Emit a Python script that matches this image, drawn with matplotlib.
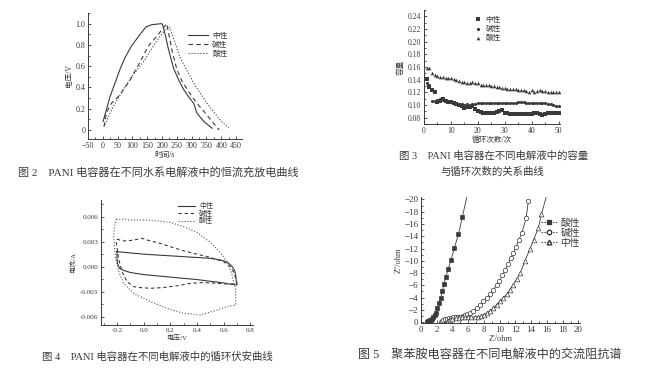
import matplotlib
matplotlib.use("Agg")
import matplotlib.pyplot as plt
from matplotlib.ticker import MultipleLocator, FormatStrFormatter, FixedLocator

plt.rcParams['font.family'] = ['Liberation Serif', 'Noto Sans CJK SC']
plt.rcParams['axes.unicode_minus'] = True

INK = '#3a3a3a'
plt.rcParams['text.color'] = INK
plt.rcParams['axes.edgecolor'] = INK
plt.rcParams['xtick.color'] = INK
plt.rcParams['ytick.color'] = INK
plt.rcParams['axes.labelcolor'] = INK

# ---------------- Fig 2 data: galvanostatic charge/discharge ----------------
gcd_labels = ['中性', '碱性', '酸性']
gcd_neutral_t = [1, 12, 24, 41, 58, 75, 97, 126, 146, 165, 199, 202, 212, 222, 239, 256, 273, 290, 307, 318, 341, 369]
gcd_neutral_v = [0.08, 0.19, 0.31, 0.44, 0.57, 0.68, 0.79, 0.90, 0.97, 0.99, 1.0, 0.99, 0.88, 0.755, 0.58, 0.47, 0.38, 0.31, 0.25, 0.157, 0.08, 0.016]
gcd_alkali_t = [4, 12, 29, 58, 92, 126, 154, 182, 199, 216, 233, 250, 267, 290, 318, 346, 369, 393]
gcd_alkali_v = [0.03, 0.16, 0.25, 0.33, 0.47, 0.64, 0.79, 0.88, 0.94, 1.0, 0.755, 0.57, 0.46, 0.36, 0.25, 0.16, 0.08, 0.0]
gcd_acid_t = [7, 35, 69, 103, 137, 171, 193, 210, 222, 227, 261, 307, 352, 397, 425]
gcd_acid_v = [0.05, 0.22, 0.38, 0.52, 0.64, 0.79, 0.88, 0.94, 0.97, 0.96, 0.68, 0.44, 0.25, 0.09, 0.02]

# ---------------- Fig 3 data: capacity vs cycle ----------------
cyc_labels = ['中性', '碱性', '酸性']
cycles = list(range(1, 51))
cap_neutral = [0.141, 0.128, 0.124, 0.120, 0.104, 0.106, 0.110, 0.106, 0.105, 0.104,
               0.103, 0.102, 0.100, 0.098, 0.096, 0.097, 0.097, 0.098, 0.093, 0.090,
               0.089, 0.088, 0.087, 0.088, 0.087, 0.088, 0.089, 0.091, 0.092, 0.088,
               0.087, 0.086, 0.086, 0.086, 0.086, 0.086, 0.086, 0.086, 0.086, 0.086,
               0.087, 0.087, 0.086, 0.085, 0.086, 0.087, 0.087, 0.087, 0.087, 0.087]
cap_alkali = [0.135, 0.132, 0.107, 0.106, 0.108, 0.109, 0.108, 0.107, 0.106, 0.105,
              0.104, 0.103, 0.102, 0.101, 0.100, 0.101, 0.100, 0.101, 0.102, 0.103,
              0.103, 0.103, 0.103, 0.103, 0.103, 0.103, 0.103, 0.103, 0.103, 0.103,
              0.103, 0.103, 0.103, 0.103, 0.104, 0.105, 0.104, 0.103, 0.103, 0.103,
              0.103, 0.103, 0.103, 0.103, 0.103, 0.102, 0.101, 0.100, 0.099, 0.098]
cap_acid = [0.159, 0.158, 0.150, 0.148, 0.146, 0.145, 0.144, 0.143, 0.142, 0.142,
            0.141, 0.140, 0.138, 0.137, 0.136, 0.135, 0.135, 0.136, 0.135, 0.134,
            0.132, 0.131, 0.131, 0.132, 0.130, 0.130, 0.129, 0.128, 0.127, 0.127,
            0.126, 0.126, 0.125, 0.125, 0.124, 0.124, 0.123, 0.122, 0.121, 0.123,
            0.121, 0.122, 0.123, 0.122, 0.122, 0.121, 0.121, 0.120, 0.121, 0.120]

# ---------------- Fig 4 data: cyclic voltammetry (A) ----------------
cv_labels = ['中性', '碱性', '酸性']
cv_neutral_v = [-0.2, -0.1, 0.0, 0.1, 0.2, 0.3, 0.4, 0.5, 0.56, 0.6, 0.63, 0.66, 0.68, 0.69, 0.695, 0.7,
                0.65, 0.6, 0.5, 0.4, 0.3, 0.2, 0.1, 0.0, -0.1, -0.15, -0.18, -0.195, -0.2, -0.2]
cv_neutral_i = [0.0018, 0.00165, 0.0015, 0.0014, 0.0013, 0.0012, 0.0011, 0.001, 0.00085, 0.0007, 0.0005, 0.0001, -0.0004, -0.001, -0.0018, -0.0022,
                -0.0021, -0.00195, -0.00175, -0.00155, -0.0014, -0.00125, -0.0011, -0.00095, -0.0007, -0.00045, -0.0002, 0.0003, 0.001, 0.0018]
cv_alkali_v = [-0.2, -0.16, -0.12, -0.075, -0.04, -0.012, 0.025, 0.1, 0.2, 0.3, 0.4, 0.5, 0.6, 0.65, 0.68, 0.7,
               0.65, 0.55, 0.45, 0.35, 0.25, 0.15, 0.05, -0.03, -0.075, -0.125, -0.1625, -0.1875, -0.205, -0.2]
cv_alkali_i = [0.0033, 0.0031, 0.0031, 0.0032, 0.0033, 0.0034, 0.0032, 0.0029, 0.0024, 0.0019, 0.0015, 0.0011, 0.0006, 0.0, -0.0008, -0.002,
               -0.0021, -0.002, -0.0019, -0.002, -0.0023, -0.0025, -0.0026, -0.0025, -0.0024, -0.0018, -0.0006, 0.0009, 0.0029, 0.0033]
cv_acid_v = [-0.205, -0.15, -0.1, 0.0, 0.1, 0.2, 0.3, 0.4, 0.5, 0.575, 0.625, 0.66, 0.69, 0.69,
             0.625, 0.55, 0.425, 0.3, 0.175, 0.05, -0.075, -0.15, -0.1875, -0.2125, -0.225, -0.22, -0.205]
cv_acid_i = [0.0057, 0.0057, 0.0056, 0.0056, 0.0055, 0.0053, 0.0048, 0.0041, 0.0029, 0.0017, 0.0006, -0.0008, -0.0028, -0.0046,
             -0.0048, -0.0052, -0.0058, -0.0056, -0.005, -0.0042, -0.0032, -0.002, -0.0006, 0.0012, 0.0036, 0.0048, 0.0057]

# ---------------- Fig 5 data: impedance (Nyquist) ----------------
eis_labels = ['酸性', '碱性', '中性']
eis_acid_x = [0.75, 0.85, 0.95, 1.05, 1.15, 1.27, 1.4, 1.57, 1.72, 1.86, 2.08, 2.29, 2.5, 2.7, 2.92, 3.14, 3.47, 3.81, 4.24, 4.75, 5.25]
eis_acid_y = [0.0, -0.05, -0.12, -0.2, -0.28, -0.38, -0.55, -0.76, -1.1, -1.5, -2.3, -3.1, -4.0, -5.0, -6.2, -7.3, -8.7, -10.1, -12.1, -14.3, -17.1]
eis_acid_line_end = (5.85, -20.6)
eis_alkali_x = [2.55, 2.65, 2.8, 3.0, 3.25, 3.5, 3.8, 4.1, 4.4, 4.7, 5.0, 5.3, 5.6, 5.9, 6.25, 6.65, 7.1, 7.5, 7.9, 8.35,
                8.8, 9.2, 9.6, 9.96, 10.35, 10.7, 11.05, 11.4, 11.75, 12.1, 12.45, 12.8, 13.35, 13.64]
eis_alkali_y = [0.0, -0.2, -0.38, -0.5, -0.58, -0.65, -0.7, -0.75, -0.8, -0.85, -0.9, -1.0, -1.15, -1.3, -1.55, -1.85, -2.3, -2.8, -3.4, -4.0,
                -4.6, -5.3, -6.0, -6.7, -7.6, -8.5, -9.4, -10.4, -11.3, -12.3, -13.4, -14.5, -16.9, -19.7]
eis_neutral_x = [3.26, 3.4, 3.7, 4.0, 4.4, 4.8, 5.2, 5.6, 6.0, 6.4, 6.8, 7.2, 7.6, 7.95, 8.35, 8.75, 9.2, 9.6, 10.0, 10.45,
                 10.9, 11.3, 11.7, 12.15, 12.6, 13.2, 13.86, 14.3, 14.9, 15.3]
eis_neutral_y = [0.0, -0.2, -0.4, -0.55, -0.65, -0.72, -0.76, -0.78, -0.8, -0.8, -0.82, -0.88, -1.0, -1.2, -1.46, -1.85, -2.3, -2.85, -3.4, -3.95,
                 -4.55, -5.3, -6.1, -7.0, -8.0, -9.9, -12.0, -13.4, -15.3, -17.6]
eis_neutral_line_end = (15.95, -20.6)

captions = [
    '图 2    PANI 电容器在不同水系电解液中的恒流充放电曲线',
    '图 3    PANI 电容器在不同电解液中的容量',
    '与循环次数的关系曲线',
    '图 4    PANI 电容器在不同电解液中的循环伏安曲线',
    '图 5    聚苯胺电容器在不同电解液中的交流阻抗谱',
]

W, H = 649, 381
fig = plt.figure(figsize=(W / 100, H / 100), dpi=100)


def add_ax(l, t, r, b):
    return fig.add_axes([l / W, 1 - b / H, (r - l) / W, (b - t) / H])


def style(ax, fs):
    ax.spines['top'].set_visible(False)
    ax.spines['right'].set_visible(False)
    for s in ('left', 'bottom'):
        ax.spines[s].set_linewidth(0.7)
    ax.tick_params(which='both', direction='in', labelsize=fs, width=0.6, pad=2)
    ax.tick_params(which='major', length=2.5)
    ax.tick_params(which='minor', length=1.5)
    ax.patch.set_alpha(0)


LW = 0.8

# ---- Fig 2 ----
ax1 = add_ax(88, 13, 242, 139)
style(ax1, 5.8)
ax1.plot(gcd_neutral_t, gcd_neutral_v, '-', color=INK, lw=LW, label=gcd_labels[0])
ax1.plot(gcd_alkali_t, gcd_alkali_v, '--', color=INK, lw=LW, dashes=(4, 3), label=gcd_labels[1])
ax1.plot(gcd_acid_t, gcd_acid_v, ':', color=INK, lw=LW, label=gcd_labels[2])
ax1.set_xlim(-50, 470)
ax1.set_ylim(-0.085, 1.1)
ax1.xaxis.set_major_locator(MultipleLocator(50))
ax1.xaxis.set_minor_locator(MultipleLocator(25))
ax1.set_yticks([0, 0.2, 0.4, 0.6, 0.8, 1.0])
ax1.set_yticklabels(['0', '0.2', '0.4', '0.6', '0.8', '1.0'])
ax1.yaxis.set_minor_locator(MultipleLocator(0.1))
ax1.set_xlabel('时间/s', fontsize=5.5, labelpad=1)
ax1.set_ylabel('电压/V', fontsize=5.5, labelpad=2)
ax1.legend(loc='upper right', bbox_to_anchor=(0.93, 0.88), frameon=False, fontsize=5.5,
           handlelength=2.6, handletextpad=0.6, labelspacing=0.1, borderpad=0)

# ---- Fig 3 ----
ax2 = add_ax(424, 10, 560, 124)
style(ax2, 5.5)
ax2.plot(cycles, cap_neutral, 's', color=INK, ms=2.2, mew=0, label=cyc_labels[0])
ax2.plot(cycles, cap_alkali, 'o', color=INK, ms=2.3, mew=0, label=cyc_labels[1])
ax2.plot(cycles, cap_acid, '^', color=INK, ms=2.6, mew=0, label=cyc_labels[2])
ax2.set_xlim(0, 50.5)
ax2.set_ylim(0.07, 0.25)
ax2.xaxis.set_major_locator(MultipleLocator(10))
ax2.xaxis.set_minor_locator(MultipleLocator(5))
ax2.yaxis.set_major_locator(FixedLocator([0.08, 0.10, 0.12, 0.14, 0.16, 0.18, 0.20, 0.22, 0.24]))
ax2.yaxis.set_major_formatter(FormatStrFormatter('%.2f'))
ax2.yaxis.set_minor_locator(MultipleLocator(0.01))
ax2.set_xlabel('循环次数/次', fontsize=5.5, labelpad=1)
ax2.set_ylabel('容量', fontsize=5.5, labelpad=2)
ax2.legend(loc='upper left', bbox_to_anchor=(0.35, 0.98), frameon=False, fontsize=5.5,
           handlelength=0.8, handletextpad=0.5, labelspacing=0.15, borderpad=0, markerscale=1.0)

# ---- Fig 4 ----
ax3 = add_ax(101, 200, 253, 325)
style(ax3, 5)
ax3.plot(cv_neutral_v, cv_neutral_i, '-', color=INK, lw=LW, label=cv_labels[0])
ax3.plot(cv_alkali_v, cv_alkali_i, '--', color=INK, lw=LW, dashes=(3, 2.5), label=cv_labels[1])
ax3.plot(cv_acid_v, cv_acid_i, ':', color='#555555', lw=LW, label=cv_labels[2])
ax3.set_xlim(-0.32, 0.82)
ax3.set_ylim(-0.007, 0.008)
ax3.xaxis.set_major_locator(MultipleLocator(0.2))
ax3.xaxis.set_minor_locator(MultipleLocator(0.1))
ax3.xaxis.set_major_formatter(FormatStrFormatter('%.1f'))
ax3.yaxis.set_major_locator(FixedLocator([-0.006, -0.003, 0.0, 0.003, 0.006]))
ax3.yaxis.set_major_formatter(FormatStrFormatter('%.3f'))
ax3.yaxis.set_minor_locator(MultipleLocator(0.0015))
ax3.set_xlabel('电压/V', fontsize=5, labelpad=1)
ax3.set_ylabel('电流/A', fontsize=5, labelpad=3)
ax3.legend(loc='upper right', bbox_to_anchor=(0.76, 1.01), frameon=False, fontsize=5,
           handlelength=2.4, handletextpad=0.6, labelspacing=0.05, borderpad=0)

# ---- Fig 5 ----
ax4 = add_ax(421, 197, 580, 323.3)
style(ax4, 6.5)
ax4.plot(eis_acid_x + [eis_acid_line_end[0]], eis_acid_y + [eis_acid_line_end[1]], '-', color=INK, lw=0.6)
ax4.plot(eis_alkali_x, eis_alkali_y, '-', color=INK, lw=0.6)
ax4.plot(eis_neutral_x + [eis_neutral_line_end[0]], eis_neutral_y + [eis_neutral_line_end[1]], '-', color=INK, lw=0.6)
ax4.plot(eis_acid_x, eis_acid_y, 's', color=INK, ms=2.8, mew=0.5, ls='none')
ax4.plot(eis_alkali_x, eis_alkali_y, 'o', mfc='white', mec=INK, ms=3.2, mew=0.5, ls='none')
ax4.plot(eis_neutral_x, eis_neutral_y, '^', mfc='white', mec=INK, ms=3.4, mew=0.5, ls='none')
h1, = ax4.plot([], [], '--s', color=INK, ms=2.8, lw=0.6, dashes=(2, 1.5), label=eis_labels[0])
h2, = ax4.plot([], [], '--o', color=INK, mfc='white', ms=3.2, lw=0.6, dashes=(2, 1.5), label=eis_labels[1])
h3, = ax4.plot([], [], '--^', color=INK, mfc='white', ms=3.4, lw=0.6, dashes=(2, 1.5), label=eis_labels[2])
ax4.set_xlim(0, 20.2)
ax4.set_ylim(0.2, -20.4)
ax4.xaxis.set_major_locator(MultipleLocator(2))
ax4.xaxis.set_minor_locator(MultipleLocator(1))
ax4.yaxis.set_major_locator(MultipleLocator(2))
ax4.yaxis.set_minor_locator(MultipleLocator(1))
ax4.set_xlabel("Z'/ohm", fontsize=6, labelpad=1)
ax4.set_ylabel("Z''/ohm", fontsize=6, labelpad=1)
ax4.legend(handles=[h1, h2, h3], loc='upper right', bbox_to_anchor=(1.03, 0.87), frameon=False, fontsize=7,
           handlelength=1.6, handletextpad=0.4, labelspacing=0.1, borderpad=0)

# ---- Captions ----
fig.text(18 / W, 1 - 172 / H, captions[0], fontsize=8, ha='left', va='center')
fig.text(494 / W, 1 - 156 / H, captions[1], fontsize=7.5, ha='center', va='center')
fig.text(492 / W, 1 - 172 / H, captions[2], fontsize=7.5, ha='center', va='center')
fig.text(42 / W, 1 - 357 / H, captions[3], fontsize=7.5, ha='left', va='center')
fig.text(358 / W, 1 - 355 / H, captions[4], fontsize=8.7, ha='left', va='center')

fig.savefig('out.png', dpi=100, facecolor='white')
